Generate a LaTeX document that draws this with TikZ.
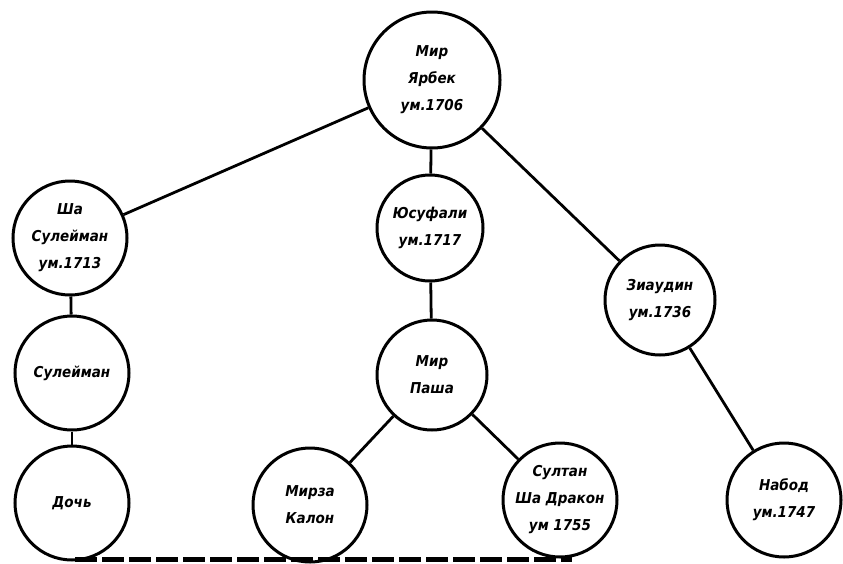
\documentclass[tikz,border=0pt]{standalone}
\usepackage{fontspec}
\newfontfamily\labfont{DejaVu Sans Condensed}
\begin{document}
\begin{tikzpicture}[x=1pt,y=-1pt,
  person/.style={circle,draw=black,line width=3pt,fill=white,inner sep=0pt,
    minimum size=#1,align=center,
    font=\labfont\bfseries\itshape\fontsize{15}{27}\selectfont},
  person/.default=114pt,
  link/.style={draw=black,line width=2.8pt}]
\useasboundingbox (0,0) rectangle (843,563);
\fill[white] (0,0) rectangle (843,563);
% nodes
\node[person=136pt] (yarbek) at (432,80) {Мир\\Ярбек\\ум.1706};
\node[person] (shasul) at (70,238) {Ша\\Сулейман\\ум.1713};
\node[person=106pt] (yusuf) at (430,228) {Юсуфали\\ум.1717};
\node[person=110pt] (ziaud) at (660,300) {Зиаудин\\ум.1736};
\node[person] (sul) at (72,373) {Сулейман};
\node[person=110pt] (pasha) at (432,375) {Мир\\Паша};
\node[person] (doch) at (72,503) {Дочь};
\node[person] (mirza) at (310,505) {Мирза\\Калон};
\node[person] (sultan) at (560,500) {Султан\\Ша Дракон\\ум 1755};
\node[person] (nabod) at (784,500) {Набод\\ум.1747};
% connectors
\draw[link] (yarbek) -- (shasul);
\draw[link] (yarbek) -- (yusuf);
\draw[link] (yarbek) -- (ziaud);
\draw[link] (shasul) -- (sul);
\draw[link] (sul) -- (doch);
\draw[link] (yusuf) -- (pasha);
\draw[link] (pasha) -- (mirza);
\draw[link] (pasha) -- (sultan);
\draw[link] (ziaud) -- (nabod);
% scan edge strip
\coordinate (s1) at (75,559);
\coordinate (s2) at (572,559);
\draw[black,line width=5pt,dash pattern=on 22pt off 5pt] (s1) -- (s2);
\end{tikzpicture}
\end{document}
